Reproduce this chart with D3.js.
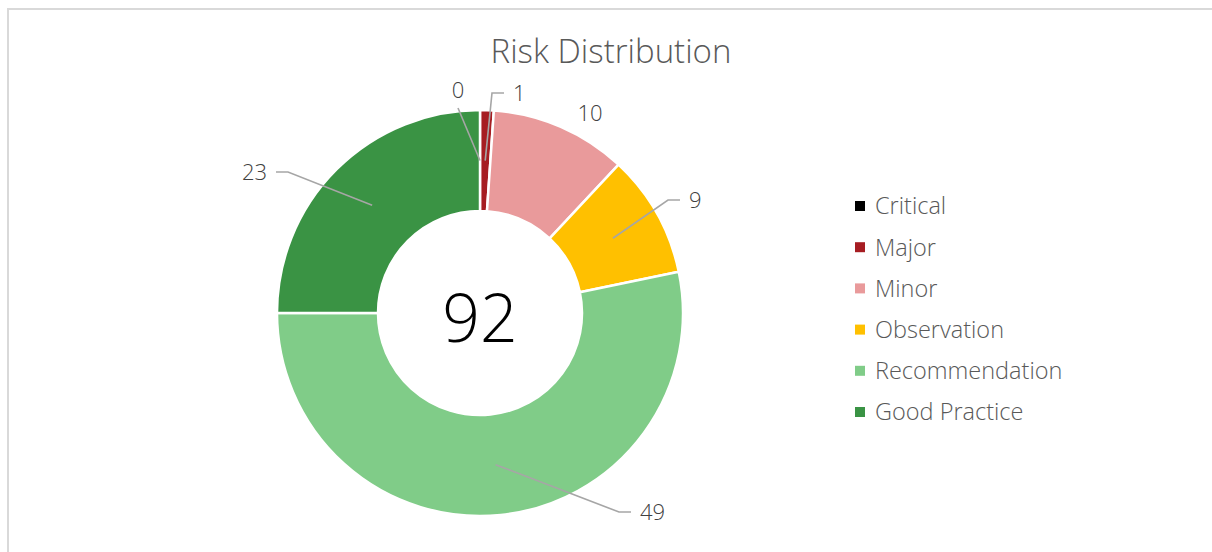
<!DOCTYPE html>
<html>
<head>
<meta charset="utf-8">
<script src="https://cdn.jsdelivr.net/npm/d3@7"></script>
<style>
  body { margin: 0; background: #fff; }
  text { font-family: "Open Sans", "Noto Sans", sans-serif; font-weight: 350; }
</style>
</head>
<body>
<div id="chart"></div>
<script>
// data
const categories = ["Critical", "Major", "Minor", "Observation", "Recommendation", "Good Practice"];
const counts = [0, 1, 10, 9, 49, 23];
const palette = ["#000000", "#A61D22", "#E99A9B", "#FFC000", "#80CC88", "#3A9344"];

// label placement relative to the donut centre (Excel "best fit" look)
const labelLayout = [
  {dx: -22, dy: -223, anchor: "middle", leader: "straight"},
  {dx: 33, dy: -220, anchor: "start", leader: "elbow"},
  {dx: 110, dy: -200, anchor: "middle", leader: "none"},
  {dx: 209, dy: -113, anchor: "start", leader: "elbow"},
  {dx: 160, dy: 199, anchor: "start", leader: "elbow"},
  {dx: -213, dy: -141, anchor: "end", leader: "elbow"}
];

const width = 1212, height = 552;
const cx = 480, cy = 313;
const outerR = 203, innerR = 102;

const svg = d3.select("#chart")
              .append("svg")
              .attr("width", width)
              .attr("height", height);

// chart frame
svg.append("rect")
   .attr("x", 8)
   .attr("y", 9)
   .attr("width", width + 10)
   .attr("height", height + 10)
   .attr("fill", "none")
   .attr("stroke", "#d9d9d9")
   .attr("stroke-width", 2);

svg.append("text")
   .attr("x", 611)
   .attr("y", 63)
   .attr("text-anchor", "middle")
   .attr("font-size", 33)
   .attr("fill", "#595959")
   .text("Risk Distribution");

const rows = categories.map((c, i) => ({name: c, value: counts[i], color: palette[i], lay: labelLayout[i]}));

const pie = d3.pie()
              .sort(null)
              .value(d => d.value);
const arc = d3.arc()
              .innerRadius(innerR)
              .outerRadius(outerR);
const mid = d3.arc()
              .innerRadius((innerR + outerR) / 2)
              .outerRadius((innerR + outerR) / 2);

const g = svg.append("g")
             .attr("transform", `translate(${cx},${cy})`);

const slices = pie(rows);

g.selectAll("path.slice")
 .data(slices)
 .enter()
 .append("path")
 .attr("class", "slice")
 .attr("d", arc)
 .attr("fill", d => d.data.color)
 .attr("stroke", "#fff")
 .attr("stroke-width", 2.5);

// leader lines
g.selectAll("polyline.leader")
 .data(slices.filter(d => d.data.lay.leader !== "none"))
 .enter()
 .append("polyline")
 .attr("class", "leader")
 .attr("fill", "none")
 .attr("stroke", "#a6a6a6")
 .attr("stroke-width", 1.6)
 .attr("points", d => {
     const p = mid.centroid(d);
     const l = d.data.lay;
     if (l.leader === "straight") return [p, [l.dx, l.dy + 18]].join(" ");
     const s = l.anchor === "end" ? 1 : -1;
     return [p, [l.dx + s * 21, l.dy], [l.dx + s * 9, l.dy]].join(" ");
 });

g.selectAll("text.val")
 .data(slices)
 .enter()
 .append("text")
 .attr("class", "val")
 .attr("x", d => d.data.lay.dx)
 .attr("y", d => d.data.lay.dy)
 .attr("dy", "0.36em")
 .attr("text-anchor", d => d.data.lay.anchor)
 .attr("font-size", 22)
 .attr("fill", "#404040")
 .text(d => d.data.value);

g.append("text")
 .attr("x", 0)
 .attr("y", 5)
 .attr("dy", "0.36em")
 .attr("text-anchor", "middle")
 .attr("font-size", 66)
 .attr("fill", "#000")
 .text(d3.sum(counts));

// legend
const legend = svg.append("g")
                  .attr("transform", "translate(855,206)");
const item = legend.selectAll("g.item")
                   .data(rows)
                   .enter()
                   .append("g")
                   .attr("class", "item")
                   .attr("transform", (d, i) => `translate(0,${i * 41.2})`);
item.append("rect")
    .attr("x", 0)
    .attr("y", -5)
    .attr("width", 10)
    .attr("height", 10)
    .attr("fill", d => d.color);
item.append("text")
    .attr("x", 20)
    .attr("y", 0)
    .attr("dy", "0.36em")
    .attr("font-size", 23.5)
    .attr("fill", "#595959")
    .text(d => d.name);
</script>
</body>
</html>
